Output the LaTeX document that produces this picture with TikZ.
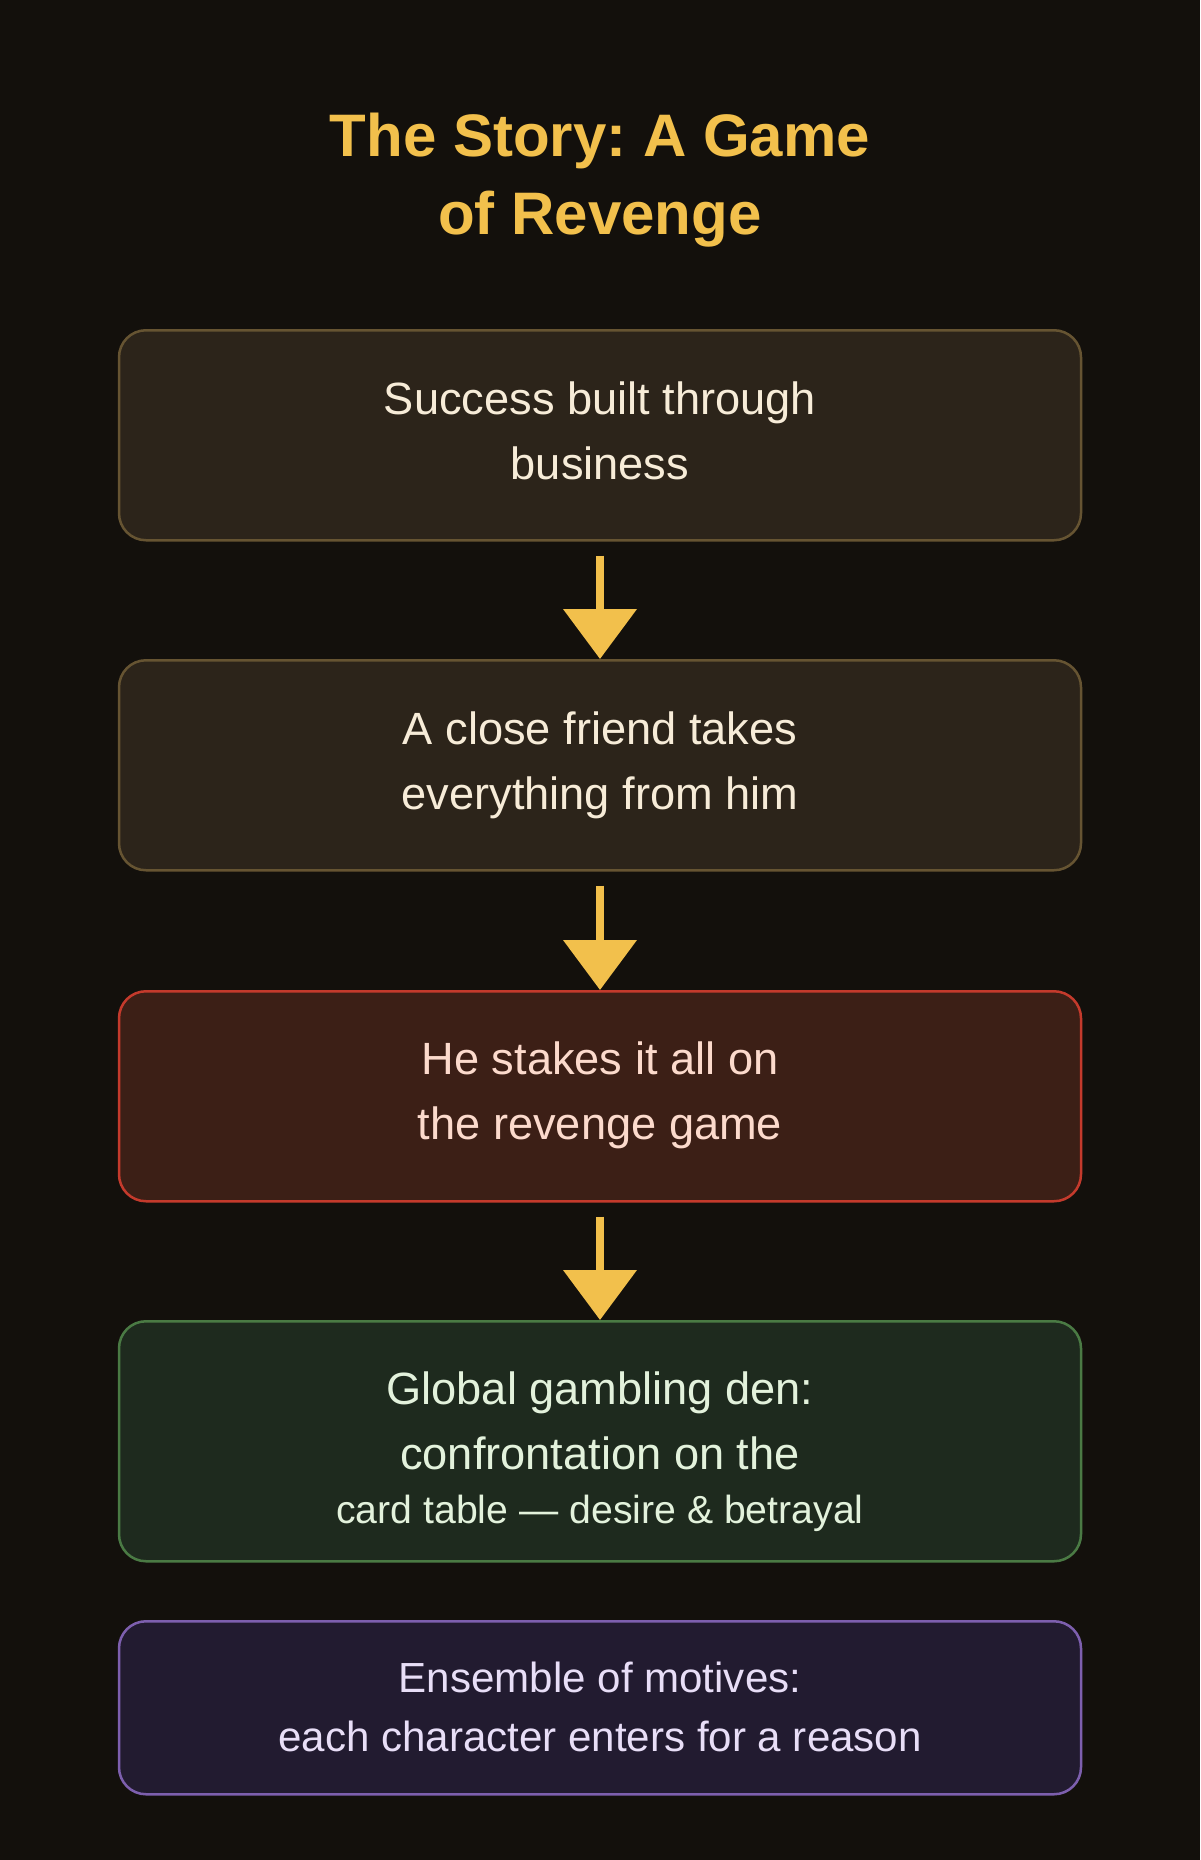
\documentclass[tikz,border=0pt]{standalone}
\usepackage{fontspec}
\setmainfont{Liberation Sans}
\usetikzlibrary{arrows.meta}
\frenchspacing
\definecolor{bg}{HTML}{13100C}
\definecolor{titlec}{HTML}{F2C04C}
\definecolor{arrowc}{HTML}{F2C04C}
\definecolor{fillA}{HTML}{2C241A}
\definecolor{lineA}{HTML}{665432}
\definecolor{textA}{HTML}{F7ECD8}
\definecolor{fillR}{HTML}{3C1F16}
\definecolor{lineR}{HTML}{C43A2C}
\definecolor{textR}{HTML}{FCDACC}
\definecolor{fillG}{HTML}{1E2A1E}
\definecolor{lineG}{HTML}{4A7A44}
\definecolor{textG}{HTML}{E3F2DC}
\definecolor{fillP}{HTML}{221B30}
\definecolor{lineP}{HTML}{7D5FAE}
\definecolor{textP}{HTML}{E8DEF7}
\begin{document}
\begin{tikzpicture}[x=1pt,y=-1pt,
  box/.style={rectangle, rounded corners=27pt, line width=2.5pt, minimum width=962pt, inner sep=0pt, anchor=north},
  title/.style={anchor=base, inner sep=0pt, text=titlec, font=\fontsize{60}{72}\selectfont\bfseries},
  txt/.style={anchor=base, inner sep=0pt, font=\fontsize{45.2}{54}\selectfont},
  smalltxt/.style={anchor=base, inner sep=0pt, font=\fontsize{39.2}{47}\selectfont},
  midtxt/.style={anchor=base, inner sep=0pt, font=\fontsize{42.1}{50}\selectfont},
  flow/.style={line width=8pt, draw=arrowc, -{Triangle[width=72pt,length=50pt]}}]
\fill[bg] (0,0) rectangle (1200,1860);
\useasboundingbox (0,0) rectangle (1200,1860);

\node[title] (t1) at (600,156.7) {The Story: A Game};
\node[title] (t2) at (600,234.3) {of Revenge};

\node[box, fill=fillA, draw=lineA, minimum height=210pt] (b1) at (600,329) {};
\node[box, fill=fillA, draw=lineA, minimum height=210pt] (b2) at (600,659) {};
\node[box, fill=fillR, draw=lineR, minimum height=210pt] (b3) at (600,990) {};
\node[box, fill=fillG, draw=lineG, minimum height=240pt] (b4) at (600,1320) {};
\node[box, fill=fillP, draw=lineP, minimum height=173pt] (b5) at (600,1620) {};

\node[txt, text=textA] (b1l1) at (600,414) {Success built through};
\node[txt, text=textA] (b1l2) at (600,479) {business};
\node[txt, text=textA] (b2l1) at (600,744) {A close friend takes};
\node[txt, text=textA] (b2l2) at (600,809) {everything from him};
\node[txt, text=textR] (b3l1) at (600,1074.5) {He stakes it all on};
\node[txt, text=textR] (b3l2) at (600,1139.5) {the revenge game};
\node[txt, text=textG] (b4l1) at (600,1404) {Global gambling den:};
\node[txt, text=textG] (b4l2) at (600,1469) {confrontation on the};
\node[smalltxt, text=textG] (b4l3) at (600,1523.3) {card table — desire \& betrayal};
\node[midtxt, text=textP] (b5l1) at (600,1692.3) {Ensemble of motives:};
\node[midtxt, text=textP] (b5l2) at (600,1751.7) {each character enters for a reason};

\draw[flow] ([yshift=-14pt]b1.south) -- (b2.north);
\draw[flow] ([yshift=-14pt]b2.south) -- (b3.north);
\draw[flow] ([yshift=-14pt]b3.south) -- (b4.north);
\end{tikzpicture}
\end{document}
